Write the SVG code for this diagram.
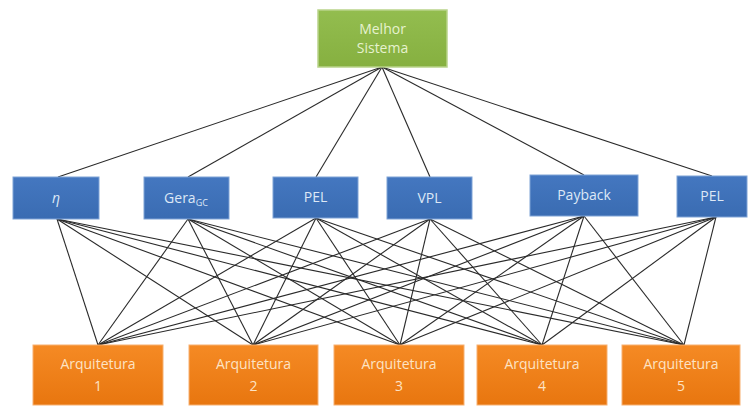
<svg xmlns="http://www.w3.org/2000/svg" width="752" height="406" viewBox="0 0 752 406">
<defs>
<linearGradient id="gG" x1="0" y1="0" x2="0" y2="1"><stop offset="0" stop-color="#93bd4f"/><stop offset="1" stop-color="#86b040"/></linearGradient>
<linearGradient id="gB" x1="0" y1="0" x2="0" y2="1"><stop offset="0" stop-color="#4477c0"/><stop offset="1" stop-color="#3a6cb2"/></linearGradient>
<linearGradient id="gO" x1="0" y1="0" x2="0" y2="1"><stop offset="0" stop-color="#f58a24"/><stop offset="1" stop-color="#e8760f"/></linearGradient>
<style>
.g{fill:url(#gG);stroke:#b9d38a;stroke-width:1.5}
.b{fill:url(#gB);stroke:#7fa3d6;stroke-width:1}
.o{fill:url(#gO);stroke:#f7b070;stroke-width:1}
.t{font-family:"Open Sans","Liberation Sans",sans-serif;font-size:14px;text-anchor:middle}
.tg{fill:#e6f2cf}
.tb{fill:#dde8f6}
.to{fill:#fde3c4}
.c line{stroke:#2a2a2a;stroke-width:1.1}
</style>
</defs>
<rect width="752" height="406" fill="#fff"/>
<g class="c" id="connectors">
<line x1="382" y1="67" x2="58" y2="177"/>
<line x1="382" y1="67" x2="188" y2="177"/>
<line x1="382" y1="67" x2="316" y2="177"/>
<line x1="382" y1="67" x2="430" y2="177"/>
<line x1="382" y1="67" x2="584" y2="175"/>
<line x1="382" y1="67" x2="712" y2="176"/>
<g id="m1">
<line x1="57" y1="219" x2="98" y2="345"/><line x1="57" y1="219" x2="253" y2="345"/><line x1="57" y1="219" x2="400" y2="345"/><line x1="57" y1="219" x2="542" y2="345"/><line x1="57" y1="219" x2="684" y2="345"/>
</g>
<g id="m2">
<line x1="188" y1="219" x2="98" y2="345"/><line x1="188" y1="219" x2="253" y2="345"/><line x1="188" y1="219" x2="400" y2="345"/><line x1="188" y1="219" x2="542" y2="345"/><line x1="188" y1="219" x2="684" y2="345"/>
</g>
<g id="m3">
<line x1="316" y1="218" x2="98" y2="345"/><line x1="316" y1="218" x2="253" y2="345"/><line x1="316" y1="218" x2="400" y2="345"/><line x1="316" y1="218" x2="542" y2="345"/><line x1="316" y1="218" x2="684" y2="345"/>
</g>
<g id="m4">
<line x1="430" y1="219" x2="98" y2="345"/><line x1="430" y1="219" x2="253" y2="345"/><line x1="430" y1="219" x2="400" y2="345"/><line x1="430" y1="219" x2="542" y2="345"/><line x1="430" y1="219" x2="684" y2="345"/>
</g>
<g id="m5">
<line x1="584" y1="216" x2="98" y2="345"/><line x1="584" y1="216" x2="253" y2="345"/><line x1="584" y1="216" x2="400" y2="345"/><line x1="584" y1="216" x2="542" y2="345"/><line x1="584" y1="216" x2="684" y2="345"/>
</g>
<g id="m6">
<line x1="716" y1="217" x2="98" y2="345"/><line x1="716" y1="217" x2="253" y2="345"/><line x1="716" y1="217" x2="400" y2="345"/><line x1="716" y1="217" x2="542" y2="345"/><line x1="716" y1="217" x2="684" y2="345"/>
</g>
</g>
<g id="melhor"><rect class="g" x="318" y="10" width="129" height="57"/><text class="t tg" x="382.5" y="34">Melhor</text><text class="t tg" x="382.5" y="53">Sistema</text></g>
<g id="eta"><rect class="b" x="13" y="177" width="86" height="42"/><text class="t tb" x="56" y="203" font-style="italic">η</text></g>
<g id="gera"><rect class="b" x="144" y="177" width="85" height="42"/><text class="t tb" x="186" y="203">Gera<tspan font-size="9" dy="3">GC</tspan></text></g>
<g id="pel1"><rect class="b" x="273" y="177" width="85" height="41"/><text class="t tb" x="315.5" y="202">PEL</text></g>
<g id="vpl"><rect class="b" x="387" y="177" width="85" height="42"/><text class="t tb" x="429.5" y="203">VPL</text></g>
<g id="payback"><rect class="b" x="530" y="175" width="108" height="41"/><text class="t tb" x="584" y="200">Payback</text></g>
<g id="pel2"><rect class="b" x="677" y="176" width="70" height="41"/><text class="t tb" x="712" y="201">PEL</text></g>
<g id="arq1"><rect class="o" x="33" y="345" width="130" height="60"/><text class="t to" x="98" y="369">Arquitetura</text><text class="t to" x="98" y="391">1</text></g>
<g id="arq2"><rect class="o" x="189" y="345" width="129" height="60"/><text class="t to" x="253.5" y="369">Arquitetura</text><text class="t to" x="253.5" y="391">2</text></g>
<g id="arq3"><rect class="o" x="334" y="345" width="130" height="60"/><text class="t to" x="399" y="369">Arquitetura</text><text class="t to" x="399" y="391">3</text></g>
<g id="arq4"><rect class="o" x="477" y="345" width="130" height="60"/><text class="t to" x="542" y="369">Arquitetura</text><text class="t to" x="542" y="391">4</text></g>
<g id="arq5"><rect class="o" x="622" y="345" width="118" height="60"/><text class="t to" x="681" y="369">Arquitetura</text><text class="t to" x="681" y="391">5</text></g>
</svg>
